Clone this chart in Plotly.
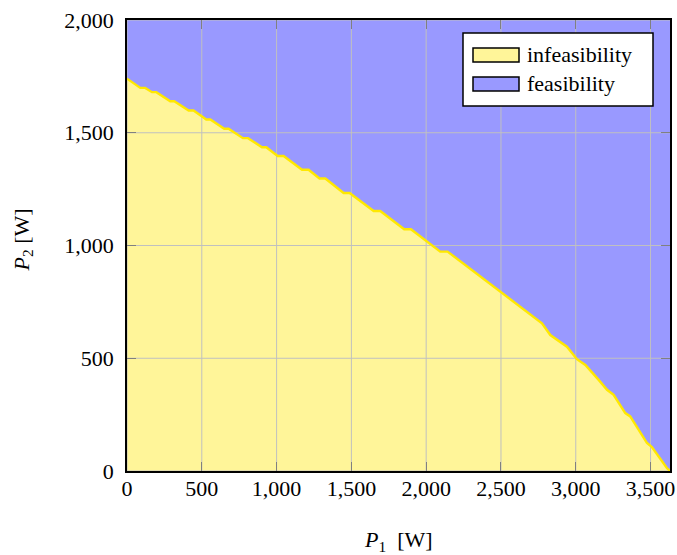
import plotly.graph_objects as go

# boundary between infeasible / feasible region
p1_w = [0, 89, 122, 167, 196, 289, 316, 412, 445, 530, 557, 650, 679, 775, 809,
        902, 931, 1007, 1047, 1170, 1214, 1287, 1326, 1448, 1488, 1649, 1693,
        1853, 1898, 2094, 2143, 2495, 2774, 2830, 2941, 3008, 3064, 3153, 3209,
        3253, 3331, 3364, 3476, 3509, 3609, 3630]
p2_w = [1740, 1699, 1699, 1680, 1680, 1640, 1640, 1599, 1599, 1559, 1559, 1518,
        1518, 1476, 1476, 1436, 1436, 1397, 1397, 1336, 1336, 1297, 1297, 1233,
        1233, 1153, 1153, 1072, 1072, 973, 973, 795, 655, 603, 551, 496, 470,
        404, 360, 338, 257, 242, 124, 106, 13, 0]

x_ticks = [0, 500, 1000, 1500, 2000, 2500, 3000, 3500]
y_ticks = [0, 500, 1000, 1500, 2000]
x_range = [0, 3630]
y_range = [0, 2000]
legend_labels = ["infeasibility", "feasibility"]

FEAS = "#9999ff"
INFEAS_FILL = "#fff599"
INFEAS_LINE = "#ffe800"
GRID = "#c0c0c0"
FONT = "Liberation Serif"

W, H = 677, 555
ML, MR, MT, MB = 127, 7, 20, 84
PW, PH = W - ML - MR, H - MT - MB


def px(xp):
    return (xp - ML) / PW


def py(yp):
    return 1 - (yp - MT) / PH


fig = go.Figure()

# infeasible area
fig.add_trace(go.Scatter(x=p1_w, y=p2_w, mode="lines", fill="tozeroy",
                         fillcolor=INFEAS_FILL, line=dict(width=0),
                         showlegend=False, hoverinfo="skip"))

# grid lines drawn on top of the filled areas
gx, gy = [], []
for t in x_ticks:
    gx += [t, t, None]
    gy += [y_range[0], y_range[1], None]
for t in y_ticks:
    gx += [x_range[0], x_range[1], None]
    gy += [t, t, None]
fig.add_trace(go.Scatter(x=gx, y=gy, mode="lines",
                         line=dict(color=GRID, width=1),
                         showlegend=False, hoverinfo="skip"))

# boundary line
fig.add_trace(go.Scatter(x=p1_w, y=p2_w, mode="lines",
                         line=dict(color=INFEAS_LINE, width=2.4),
                         showlegend=False))

axis_common = dict(
    showgrid=False, zeroline=False, showline=True, linecolor="black",
    linewidth=1.6, mirror="allticks", ticks="inside", ticklen=9,
    tickcolor="#808080", tickwidth=1, layer="above traces", automargin=False,
    ticklabeloverflow="allow",
    tickformat=",", tickfont=dict(family=FONT, size=22, color="black"),
)
fig.update_xaxes(range=x_range, tickvals=x_ticks, ticklabelstandoff=-3,
                 **axis_common)
fig.update_yaxes(range=y_range, tickvals=y_ticks, ticklabelstandoff=7,
                 **axis_common)

# legend drawn by hand
shapes = [
    dict(type="rect", xref="paper", yref="paper", x0=px(463), x1=px(653),
         y0=py(106), y1=py(33), fillcolor="white",
         line=dict(color="black", width=1.5), layer="above"),
    dict(type="rect", xref="paper", yref="paper", x0=px(473), x1=px(519),
         y0=py(62), y1=py(48), fillcolor=INFEAS_FILL,
         line=dict(color="black", width=1.5), layer="above"),
    dict(type="rect", xref="paper", yref="paper", x0=px(473), x1=px(519),
         y0=py(91), y1=py(77), fillcolor=FEAS,
         line=dict(color="black", width=1.5), layer="above"),
]
annotations = [
    dict(text=legend_labels[0], xref="paper", yref="paper", x=px(525), y=py(54),
         xanchor="left", yanchor="middle", showarrow=False,
         font=dict(family=FONT, size=22, color="black")),
    dict(text=legend_labels[1], xref="paper", yref="paper", x=px(525), y=py(84),
         xanchor="left", yanchor="middle", showarrow=False,
         font=dict(family=FONT, size=22, color="black")),
    dict(text="<i>P</i><sub>1</sub>&nbsp;&nbsp;[W]", xref="paper", yref="paper",
         x=0.5, y=0, yshift=-70, xanchor="center", yanchor="middle",
         showarrow=False, font=dict(family=FONT, size=22, color="black")),
    dict(text="<i>P</i><sub>2</sub> [W]", xref="paper", yref="paper",
         x=0, y=0.5, xshift=-105, yshift=5, xanchor="center", yanchor="middle",
         textangle=-90, showarrow=False,
         font=dict(family=FONT, size=22, color="black")),
]

fig.update_layout(
    width=W, height=H, autosize=False,
    margin=dict(l=ML, r=MR, t=MT, b=MB),
    paper_bgcolor="white", plot_bgcolor=FEAS,
    shapes=shapes, annotations=annotations, showlegend=False,
)

fig.write_html(
    "out.html",
    config={"displayModeBar": False},
    post_script="document.body.style.margin='0';"
                "document.body.style.overflow='hidden';",
)
